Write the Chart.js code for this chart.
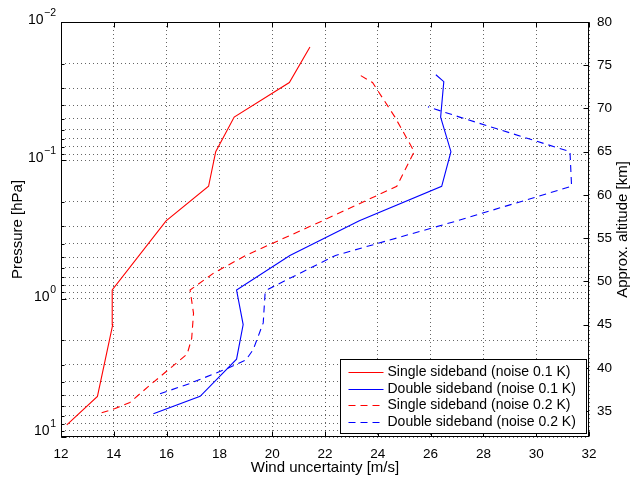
<!DOCTYPE html>
<html lang="en">
<head>
<meta charset="UTF-8">
<title>Wind uncertainty vs pressure</title>
<script src="https://cdn.jsdelivr.net/npm/chart.js"></script>
<style>
  html, body { margin: 0; padding: 0; background: #fff; }
  #wrap { width: 632px; height: 477px; }
</style>
</head>
<body>
<div id="wrap"><canvas id="windChart"></canvas></div>
<script>
// axis ticks
const windTicks = [12, 14, 16, 18, 20, 22, 24, 26, 28, 30, 32];
const pressureDecades = [0.01, 0.1, 1, 10];
const pressureExponents = ['\u22122', '\u22121', '0', '1'];
const altitudeTicks = [35, 40, 45, 50, 55, 60, 65, 70, 75, 80];
const altitudeTitle = 'Approx. altitude [km]';

const seriesLabels = [
  'Single sideband (noise 0.1 K)',
  'Double sideband (noise 0.1 K)',
  'Single sideband (noise 0.2 K)',
  'Double sideband (noise 0.2 K)'
];

// vertices: altitude [km] (right axis) and wind uncertainty [m/s]
const ssb01Alt  = [33.4, 36.7, 45, 49, 57, 61, 65, 69, 73, 77.1];
const ssb01Wind = [12.22, 13.38, 13.96, 13.94, 15.98, 17.59, 17.86, 18.56, 20.65, 21.43];

const dsb01Alt  = [34.7, 36.7, 41, 45, 49, 53, 57, 61, 65, 69, 73.1, 73.9];
const dsb01Wind = [15.5, 17.27, 18.65, 18.9, 18.65, 20.67, 23.3, 26.42, 26.77, 26.38, 26.5, 26.2];

const ssb02Alt  = [34.8, 35.3, 36, 38, 41.6, 43.4, 46.3, 49, 51, 53, 57, 61, 65, 69, 73, 73.9];
const ssb02Wind = [13.54, 14.05, 14.61, 15.37, 16.78, 16.95, 17.02, 16.89, 17.8, 19.0, 21.9, 24.72, 25.38, 24.65, 23.8, 23.3];

const dsb02Alt  = [37, 38.2, 39.9, 40.9, 42.1, 45.2, 48.6, 49.1, 53, 57, 61, 65, 69, 70.2];
const dsb02Wind = [15.75, 16.89, 18.28, 19.0, 19.28, 19.66, 19.73, 19.85, 22.4, 27.0, 31.34, 31.28, 27.1, 25.9];

const FONT = '"Liberation Sans", Arial, Helvetica, sans-serif';
Chart.defaults.font.family = FONT;
Chart.defaults.font.size = 13;
Chart.defaults.color = '#000';

const GRID = 'rgba(0,0,0,0.6)';
const DASH = [7, 5];

function points(alt, wind) {
  return alt.map((a, i) => ({ x: wind[i], y: a }));
}

function series(label, alt, wind, color, dashed) {
  return {
    label: label,
    data: points(alt, wind),
    yAxisID: 'alt',
    borderColor: color,
    backgroundColor: color,
    borderWidth: 1.1,
    borderDash: dashed ? DASH : [],
    pointRadius: 0,
    tension: 0,
    fill: false
  };
}

// MATLAB-like frame: box, inward ticks, decade labels, right title and legend
const matlabFrame = {
  id: 'matlabFrame',
  afterDraw(chart) {
    const ctx = chart.ctx;
    const a = chart.chartArea;
    const xs = chart.scales.x, ps = chart.scales.p, as = chart.scales.alt;
    ctx.save();
    ctx.strokeStyle = '#000';
    ctx.lineWidth = 1;
    ctx.setLineDash([]);

    const L = Math.round(a.left) + 0.5, R = Math.round(a.right) - 0.5;
    const T = Math.round(a.top) + 0.5, B = Math.round(a.bottom) - 0.5;

    ctx.beginPath();
    windTicks.forEach(v => {
      const px = Math.round(xs.getPixelForValue(v)) + 0.5;
      ctx.moveTo(px, B); ctx.lineTo(px, B - 5);
      ctx.moveTo(px, T); ctx.lineTo(px, T + 5);
    });
    ps.ticks.forEach(t => {
      const py = Math.round(ps.getPixelForValue(t.value)) + 0.5;
      const len = pressureDecades.includes(t.value) ? 5 : 3;
      ctx.moveTo(L, py); ctx.lineTo(L + len, py);
    });
    altitudeTicks.forEach(v => {
      const py = Math.round(as.getPixelForValue(v)) + 0.5;
      ctx.moveTo(R, py); ctx.lineTo(R - 5, py);
    });
    ctx.stroke();
    ctx.strokeRect(L, T, R - L, B - T);

    // decade labels 10^n on the pressure axis
    ctx.fillStyle = '#000';
    ctx.textBaseline = 'middle';
    ctx.textAlign = 'left';
    const labelRight = ps.right - 5;
    pressureDecades.forEach((v, i) => {
      const y = Math.min(ps.getPixelForValue(v) - 2, a.bottom - 6);
      ctx.font = '10.5px ' + FONT;
      const ew = ctx.measureText(pressureExponents[i]).width;
      ctx.fillText(pressureExponents[i], labelRight - ew, y - 7);
      ctx.font = '14px ' + FONT;
      const bw = ctx.measureText('10').width;
      ctx.fillText('10', labelRight - ew - bw - 0.5, y);
    });

    // right axis title, reading bottom to top
    ctx.save();
    ctx.font = '15px ' + FONT;
    ctx.textAlign = 'center';
    ctx.translate(chart.width - 9, (a.top + a.bottom) / 2);
    ctx.rotate(-Math.PI / 2);
    ctx.fillText(altitudeTitle, 0, 0);
    ctx.restore();

    // legend box in the lower right corner
    const sets = chart.data.datasets;
    ctx.font = '14px ' + FONT;
    const textW = Math.max(...sets.map(d => ctx.measureText(d.label).width));
    const rowH = 16.7;
    const boxW = Math.round(textW + 58);
    const boxH = 74;
    const boxR = Math.round(a.right) - 3;
    const boxB = Math.round(a.bottom) - 4;
    const bx = boxR - boxW + 0.5, by = boxB - boxH + 0.5;
    ctx.fillStyle = '#fff';
    ctx.fillRect(bx, by, boxW, boxH);
    ctx.strokeStyle = '#000';
    ctx.strokeRect(bx, by, boxW, boxH);
    sets.forEach((d, i) => {
      const y = Math.round(by + 12.5 + i * rowH) + 0.5;
      ctx.strokeStyle = d.borderColor;
      ctx.lineWidth = 1.1;
      ctx.setLineDash(d.borderDash || []);
      ctx.beginPath();
      ctx.moveTo(bx + 8, y);
      ctx.lineTo(bx + 43, y);
      ctx.stroke();
      ctx.setLineDash([]);
      ctx.fillStyle = '#000';
      ctx.fillText(d.label, bx + 47, y);
    });
    ctx.restore();
  }
};

const config = {
  type: 'line',
  data: {
    datasets: [
      series(seriesLabels[0], ssb01Alt, ssb01Wind, '#ff0000', false),
      series(seriesLabels[1], dsb01Alt, dsb01Wind, '#0000ff', false),
      series(seriesLabels[2], ssb02Alt, ssb02Wind, '#ff0000', true),
      series(seriesLabels[3], dsb02Alt, dsb02Wind, '#0000ff', true)
    ]
  },
  options: {
    responsive: true,
    maintainAspectRatio: false,
    animation: false,
    devicePixelRatio: 1,
    layout: { padding: { top: 22, left: 0, right: 0, bottom: 0 } },
    plugins: {
      legend: { display: false },
      tooltip: { enabled: false }
    },
    scales: {
      x: {
        type: 'linear',
        position: 'bottom',
        min: 12,
        max: 32,
        afterBuildTicks: s => { s.ticks = windTicks.map(v => ({ value: v })); },
        afterFit: s => { s.height = 40; },
        ticks: { padding: 9, maxRotation: 0, autoSkip: false, font: { size: 13.5 } },
        grid: { color: GRID, lineWidth: 1, drawTicks: false },
        border: { display: false, dash: [1, 3] },
        title: { display: true, text: 'Wind uncertainty [m/s]', font: { size: 15 }, padding: { top: 0, bottom: 0 } }
      },
      p: {
        type: 'logarithmic',
        position: 'left',
        min: 0.01,
        max: 10,
        reverse: true,
        afterBuildTicks: s => {
          const t = [];
          pressureDecades.forEach((d, i) => {
            t.push({ value: d });
            if (i < pressureDecades.length - 1) {
              for (let k = 2; k <= 9; k++) t.push({ value: +(d * k).toPrecision(3) });
            }
          });
          s.ticks = t;
        },
        afterFit: s => { s.width = 61; },
        ticks: { callback: () => '', autoSkip: false },
        grid: { color: GRID, lineWidth: 1, drawTicks: false },
        border: { display: false, dash: [1, 3] },
        title: { display: true, text: 'Pressure [hPa]', font: { size: 15 }, padding: { top: 9, bottom: 0 } }
      },
      alt: {
        type: 'linear',
        position: 'right',
        min: 32,
        max: 80,
        afterBuildTicks: s => { s.ticks = altitudeTicks.map(v => ({ value: v })); },
        afterFit: s => { s.width = 43; },
        ticks: { padding: 8, autoSkip: false, font: { size: 13.5 } },
        grid: { drawOnChartArea: false, drawTicks: false },
        border: { display: false }
      }
    }
  },
  plugins: [matlabFrame]
};

const ctx = document.querySelector('#windChart').getContext('2d');
const windChart = new Chart(ctx, config);
</script>
</body>
</html>
